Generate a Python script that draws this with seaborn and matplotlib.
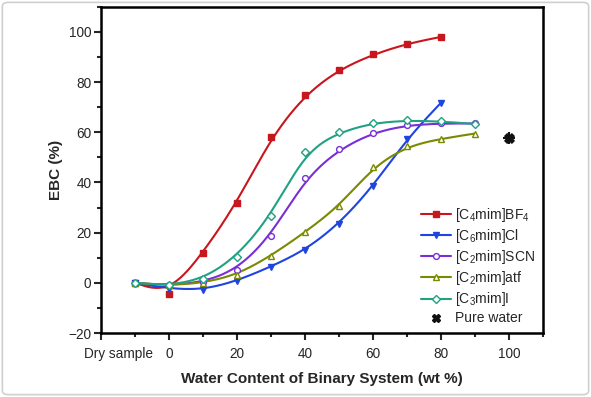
import numpy as np
import pandas as pd
import matplotlib
matplotlib.use("Agg")
import matplotlib.pyplot as plt
import matplotlib.transforms as mtransforms
import seaborn as sns
from matplotlib.lines import Line2D
from matplotlib.patches import FancyBboxPatch

sns.set_theme(style="white")
plt.rcParams['font.family'] = ['Liberation Sans', 'DejaVu Sans']
plt.rcParams['mathtext.default'] = 'regular'

# ---- data ----
x_long = [-10, 0, 10, 20, 30, 40, 50, 60, 70, 80, 90]
x_short = [-10, 0, 10, 20, 30, 40, 50, 60, 70, 80]
bf4 = [0, -4.5, 12, 32, 58, 75, 85, 91, 95.3, 98]
cl = [0, -2.3, -2.8, 0.8, 6.5, 13, 23.5, 38.5, 57.5, 71.8]
scn = [0, -1, 0.3, 5.2, 18.8, 41.6, 53.2, 59.9, 62.8, 63.5, 63.5]
atf = [0, -1, 0, 3.2, 10.8, 20.2, 30.5, 46.2, 54.5, 57.4, 59.5]
c3i = [0, -1, 1.5, 10.5, 26.8, 52.3, 60, 63.7, 64.7, 64.3, 63.3]
water_x = [100]
water_y = [57.8]

labels = ['[C$_4$mim]BF$_4$', '[C$_6$mim]Cl', '[C$_2$mim]SCN',
          '[C$_2$mim]atf', '[C$_3$mim]I']
colors = ['#C8161D', '#1F44E0', '#7A2FD6', '#7A8A00', '#21A184']
markers = ['s', 'v', 'o', '^', 'D']
filled = [True, True, False, False, False]
msizes = [3.8, 4.8, 4.2, 4.8, 3.8]

series = [(x_short, bf4), (x_short, cl), (x_long, scn), (x_long, atf), (x_long, c3i)]

xticks = [-20, 0, 20, 40, 60, 80, 100]
xticklabels = ['Dry sample', '0', '20', '40', '60', '80', '100']
yticks = [-20, 0, 20, 40, 60, 80, 100]


def bspline(xs, ys, n=40):
    # clamped uniform cubic B-spline through control points (Origin-like)
    P = np.column_stack([xs, ys]).astype(float)
    P = np.vstack([P[0], P[0], P, P[-1], P[-1]])
    out = []
    for i in range(len(P) - 3):
        t = np.linspace(0, 1, n)[:, None]
        b0 = (1 - t) ** 3 / 6
        b1 = (3 * t ** 3 - 6 * t ** 2 + 4) / 6
        b2 = (-3 * t ** 3 + 3 * t ** 2 + 3 * t + 1) / 6
        b3 = t ** 3 / 6
        out.append(b0 * P[i] + b1 * P[i + 1] + b2 * P[i + 2] + b3 * P[i + 3])
    out = np.vstack(out)
    return out[:, 0], out[:, 1]


fig = plt.figure(figsize=(5.91, 3.97), dpi=100)
ax = fig.add_axes([0.171, 0.161, 0.748, 0.822])

for (xs, ys), lab, c, m, f, ms in zip(series, labels, colors, markers, filled, msizes):
    sx, sy = bspline(xs, ys)
    sns.lineplot(x=sx, y=sy, ax=ax, color=c, lw=1.5, sort=False, estimator=None)
    df = pd.DataFrame({'x': xs, 'y': ys})
    ax.plot(df['x'], df['y'], linestyle='none', marker=m, ms=ms,
            mfc=c if f else 'white', mec=c, mew=1.0, zorder=3)

sns.scatterplot(x=water_x, y=water_y, ax=ax, marker='X', s=45, color='#111111',
                edgecolor='#111111', linewidth=1.0, zorder=4)
ax.plot(water_x, water_y, linestyle='none', marker='+', ms=8, mew=1.5, color='#111111', zorder=5)

handles = [Line2D([], [], color=c, lw=1.5, marker=m, ms=ms,
                  mfc=c if f else 'white', mec=c, mew=1.0)
           for c, m, f, ms in zip(colors, markers, filled, msizes)]
handles.append(Line2D([], [], linestyle='none', marker='X', ms=6, color='#111111'))
leg = ax.legend(handles, labels + ['Pure water'], loc='lower right',
                frameon=False, fontsize=10, numpoints=1, handlelength=2.1,
                labelspacing=0.22, handletextpad=0.35, borderaxespad=0.15,
                bbox_to_anchor=(1.0, 0.0))

ax.set_xlim(-20, 110)
ax.set_ylim(-20, 110)
ax.set_xticks(xticks)
ax.set_xticklabels(xticklabels)
ax.set_yticks(yticks)
ax.set_xticks(np.arange(-10, 111, 20), minor=True)
ax.set_yticks(np.arange(-10, 111, 20), minor=True)
ax.tick_params(axis='both', which='major', direction='out', length=5, width=1.5,
               labelsize=9.8, bottom=True, left=True, top=False, right=False)
ax.tick_params(axis='x', which='major', pad=5)
ax.tick_params(axis='y', which='major', pad=2)
ax.tick_params(axis='both', which='minor', direction='out', length=3, width=1.5,
               bottom=True, left=True, top=False, right=False)
for s in ax.spines.values():
    s.set_linewidth(1.8)
    s.set_color('black')

# shift "Dry sample" label to the right as in the reference
lbl0 = ax.get_xticklabels()[0]
lbl0.set_transform(lbl0.get_transform() + mtransforms.ScaledTranslation(17 / 100, 0, fig.dpi_scale_trans))

ax.set_xlabel('Water Content of Binary System (wt %)', fontsize=11, fontweight='bold', labelpad=8)
ax.set_ylabel('EBC (%)', fontsize=11, fontweight='bold', labelpad=4)

fig.patches.append(FancyBboxPatch((0.004, 0.006), 0.992, 0.988,
                                  boxstyle='round,pad=0,rounding_size=0.01',
                                  transform=fig.transFigure, fill=False,
                                  edgecolor='#d0d0d0', lw=1.2))

fig.savefig('out.png', dpi=100)
